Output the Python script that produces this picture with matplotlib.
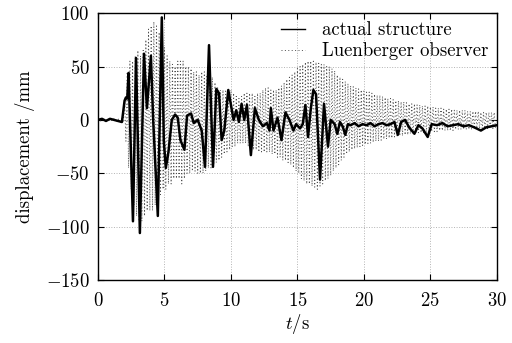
import numpy as np
import matplotlib
matplotlib.use('Agg')
import matplotlib.pyplot as plt

plt.rcParams['font.family'] = 'serif'
plt.rcParams['font.serif'] = ['cmr10', 'DejaVu Serif']
plt.rcParams['mathtext.fontset'] = 'cm'
plt.rcParams['axes.formatter.use_mathtext'] = True
plt.rcParams['font.size'] = 13.5

# actual structure
act_t = [0, 0.3, 0.6, 0.9, 1.2, 1.5, 1.8, 2.0, 2.1, 2.2, 2.3, 2.63, 2.86, 3.15,
         3.46, 3.68, 3.98, 4.15, 4.5, 4.8, 4.95, 5.1, 5.3, 5.55, 5.8, 6.0,
         6.2, 6.5, 6.7, 7.0, 7.2, 7.5, 7.8, 8.05, 8.35, 8.65, 8.9, 9.1, 9.3,
         9.5, 9.8, 10.2, 10.4, 10.6, 10.8, 11.0, 11.2, 11.5, 11.8, 12.1, 12.4,
         12.7, 12.9, 13.0, 13.2, 13.5, 13.8, 14.1, 14.4, 14.7, 14.9, 15.2,
         15.4, 15.6, 15.8, 16.0, 16.2, 16.4, 16.7, 17.0, 17.3, 17.5, 17.8,
         18.0, 18.2, 18.4, 18.6, 18.8, 19.0, 19.3, 19.6, 19.9, 20.2, 20.5,
         20.8, 21.1, 21.4, 21.7, 22.0, 22.3, 22.55, 22.8, 23.1, 23.4, 23.8,
         24.1, 24.4, 24.8, 25.1, 25.5, 25.9, 26.3, 26.7, 27.1, 27.5, 27.9,
         28.3, 28.8, 29.2, 29.6, 30.0]
act_v = [0, 1, -1, 1, 0, -1, -2, 18, 21, 20, 44, -95, 58, -106,
         62, 11, 60, 0, -90, 96, -20, -45, -30, 0, 5, 2,
         -19, -28, 4, 6, -3, 0, -10, -44, 70, -44, 29, 25, -19,
         -10, 28, 0, 9, -2, 15, 0, 14, -33, 11, 0, -6,
         -3, -10, 11, -10, 2, -19, 7, 0, -10, -4, -8,
         -4, 14, -16, 10, 28, 24, -56, 15, -25, 0, -4,
         -13, -2, -6, -14, -4, -5, -3, -6, -4, -5, -3,
         -6, -4, -3, -5, -4, -2, -14, -2, 0, -7, -13,
         -5, -8, -16, -4, -5, -3, -6, -5, -4, -6, -5,
         -7, -10, -7, -6, -5]

# Luenberger observer: quiet start, then alternating swings every 0.1 s
obs_start = [0, 1, -1, 1, 0, -1, 1, 0, -1, 1, 0, -1, 1, 0, -1, 1, 0, -2, 2, -2]
obs_hi = [20, 45, 55, 55, 60, 65, 60, 65, 75, 85,
          88, 92, 88, 82, 75, 68, 60, 55, 52, 50,
          55, 55, 55, 50, 50, 48, 45, 45, 42, 45,
          45, 42, 40, 40, 35, 30, 28, 28, 27, 28,
          28, 25, 22, 20, 22, 25, 25, 25, 25, 22,
          25, 25, 28, 30, 30, 28, 28, 28, 30, 32,
          35, 38, 40, 42, 45, 48, 50, 52, 54, 55,
          55, 55, 54, 53, 52, 52, 50, 50, 48, 46,
          42, 40, 38, 36, 34, 32, 31, 30, 29, 28,
          27, 26, 26, 25, 24, 23, 23, 22, 21, 20,
          20, 19, 18, 18, 17, 17, 16, 15, 15, 15,
          14, 14, 13, 13, 13, 12, 12, 11, 11, 11,
          10, 10, 10, 10, 9, 9, 9, 9, 9, 8,
          8, 8, 8, 8, 7, 7, 7, 7, 7, 7]
obs_lo = [-20, -45, -65, -80, -90, -95, -95, -90, -85, -85,
          -85, -80, -75, -70, -65, -65, -60, -60, -55, -55,
          -55, -60, -55, -50, -50, -48, -48, -50, -50, -50,
          -48, -45, -45, -42, -40, -38, -35, -32, -30, -28,
          -25, -25, -22, -22, -22, -22, -25, -28, -28, -28,
          -30, -30, -30, -30, -30, -32, -32, -35, -35, -38,
          -38, -40, -42, -45, -48, -50, -55, -57, -60, -60,
          -62, -63, -65, -62, -60, -57, -55, -52, -48, -45,
          -42, -38, -35, -32, -30, -28, -27, -26, -25, -24,
          -23, -22, -22, -21, -20, -20, -19, -18, -18, -17,
          -17, -16, -15, -15, -15, -14, -14, -13, -13, -13,
          -12, -12, -12, -12, -11, -11, -11, -11, -10, -10,
          -10, -10, -10, -10, -9, -9, -9, -9, -9, -9,
          -9, -8, -8, -8, -8, -8, -8, -8, -8, -8]

obs_v = obs_start + [v for pair in zip(obs_hi, obs_lo) for v in pair]
obs_t = np.arange(len(obs_v)) * 0.1

fig = plt.figure(figsize=(5.12, 3.43), dpi=100)
ax = fig.add_axes([0.1914, 0.1837, 0.779, 0.778])

ax.plot(obs_t, obs_v, color='0.3', lw=0.7, ls=(0, (1, 2.5)), zorder=2,
        label='Luenberger observer')
ax.plot(act_t, act_v, color='black', lw=1.8, zorder=3, label='actual structure')

ax.set_xlim(0, 30)
ax.set_ylim(-150, 100)
ax.set_xticks([0, 5, 10, 15, 20, 25, 30])
ax.set_yticks([-150, -100, -50, 0, 50, 100])
ax.grid(True, color='0.7', ls=':', lw=0.7)
ax.tick_params(direction='in', top=True, right=True, length=4)
ax.tick_params(axis='x', pad=9)
ax.tick_params(axis='y', pad=6)
for s in ax.spines.values():
    s.set_linewidth(1.0)

ax.set_xlabel('$t$/s', labelpad=1)
ax.set_ylabel('displacement /mm', labelpad=8)

h, l = ax.get_legend_handles_labels()
leg = ax.legend(h[::-1], l[::-1], loc='upper right', frameon=False,
                handlelength=1.3, handletextpad=0.9, borderaxespad=0.05,
                labelspacing=0.15)
leg.get_lines()[0].set_linewidth(1.0)

fig.savefig('out.png', dpi=100)
